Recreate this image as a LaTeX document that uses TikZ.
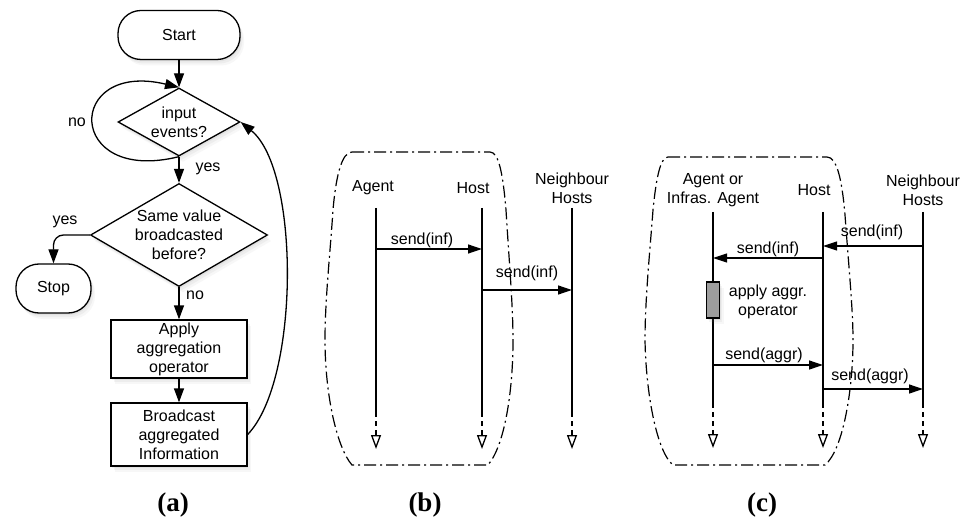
\documentclass[tikz,border=0pt]{standalone}
\usepackage{fontspec}
\setmainfont{Liberation Sans}
\newfontfamily\capfont{Liberation Serif}
\usetikzlibrary{arrows.meta,shapes.geometric,shadows}
\begin{document}
\begin{tikzpicture}[x=1pt,y=-1pt,
  every node/.style={font=\fontsize{16}{19}\selectfont, align=center},
  shdw/.style={drop shadow={shadow xshift=4pt,shadow yshift=-6pt,opacity=0.06},
               drop shadow={shadow xshift=2.5pt,shadow yshift=-4pt,opacity=0.08},
               drop shadow={shadow xshift=1pt,shadow yshift=-2pt,opacity=0.10}},
  box/.style={draw, line width=1.3pt, rectangle, minimum width=136pt, inner sep=0pt, fill=white, shdw},
  term/.style={draw, line width=1.3pt, rounded corners=23pt, inner sep=0pt, fill=white, shdw},
  dec/.style={draw, diamond, line width=1.3pt, inner sep=-15pt, fill=white, shdw},
  arr/.style={line width=1.3pt, -{Triangle[length=14pt,width=10pt]}},
  msg/.style={line width=1.2pt, -{Triangle[length=14pt,width=9pt]}},
  life/.style={line width=1.2pt},
  lifedash/.style={line width=1.2pt, dash pattern=on 5pt off 4pt},
  lifetip/.style={line width=1.3pt, -{Triangle[open,length=14pt,width=10pt]}},
  bound/.style={line width=1.2pt, dash pattern=on 12pt off 4pt on 2pt off 4pt},
  lbl/.style={inner sep=0pt},
  act/.style={draw, line width=1.2pt, fill=black!38, inner sep=0pt, minimum width=13pt, minimum height=36pt, shdw},
  capt/.style={font=\capfont\bfseries\fontsize{27}{30}\selectfont, inner sep=0pt}
]
\useasboundingbox (0,0) rectangle (973,518);
\fill[white] (0,0) rectangle (973,518);

% ---------- (a) flowchart ----------
\node[term, minimum width=122pt, minimum height=49pt] (start) at (179,35) {Start};
\node[dec, minimum width=122pt, minimum height=68pt] (d1) at (179,122) {input\\events?};
\node[dec, minimum width=177pt, minimum height=103pt] (d2) at (179,235) {Same value\\broadcasted\\before?};
\node[term, minimum width=75pt, minimum height=49pt] (stop) at (53.5,288.5) {Stop};
\node[box, minimum height=58pt] (b1) at (179,349) {Apply\\aggregation\\operator};
\node[box, minimum height=63pt] (b2) at (179,434.5) {Broadcast\\aggregated\\Information};

\node[lbl] (no1) at (77,122) {no};
\node[lbl] (yes1) at (208,169) {yes};
\node[lbl] (yes2) at (65,222) {yes};
\node[lbl] (no2) at (195,295) {no};

\draw[arr] (start) -- (d1);
\draw[arr] (d1.south) .. controls (65,185) and (65,60) .. (d1.north);
\draw[arr] (d1.south) -- (d2.north);
\draw[arr, rounded corners=10pt] (d2.west) -| (stop.north);
\draw[arr] (d2.south) -- (b1.north);
\draw[arr] (b1.south) -- (b2.north);
\draw[arr] (b2.east) .. controls (300,380) and (300,170) .. (d1.east);

\node[capt] (capa) at (173,505) {(a)};

% ---------- (b) ----------
\draw[bound] (352,152) -- (490,152) .. controls (499,152) and (503,175) .. (506,210)
  .. controls (509,260) and (513,305) .. (513,340) .. controls (513,390) and (505,445) .. (488,465)
  -- (352,465) .. controls (337,448) and (325,395) .. (325,340)
  .. controls (325,300) and (330,255) .. (333,210) .. controls (336,175) and (342,152) .. (352,152) -- cycle;

\node (bAg) at (373,188) {Agent};
\node (bHo) at (473,188) {Host};
\node (bNe) at (572,188) {Neighbour\\Hosts};

\foreach \n/\x in {bA/376, bH/482, bN/572}{
  \coordinate (\n0) at (\x,208); \coordinate (\n1) at (\x,412);
  \coordinate (\n2) at (\x,434); \coordinate (\n3) at (\x,449);
}
\foreach \n in {bA,bH,bN}{
  \draw[life] (\n0) -- (\n1);
  \draw[lifedash] (\n1) -- (\n2);
  \draw[lifetip] (\n2) -- (\n3);
}

\coordinate (bm1a) at (376,249); \coordinate (bm1b) at (482,249);
\draw[msg] (bm1a) -- (bm1b);
\node[lbl] (bl1) at (422,240) {send(inf)};
\coordinate (bm2a) at (482,290); \coordinate (bm2b) at (572,290);
\draw[msg] (bm2a) -- (bm2b);
\node[lbl] (bl2) at (527,273.5) {send(inf)};

\node[capt] (capb) at (425,505) {(b)};

% ---------- (c) ----------
\draw[bound] (668,157) -- (827,157) .. controls (837,157) and (842,180) .. (845,215)
  .. controls (849,270) and (853,310) .. (853,340) .. controls (853,390) and (843,450) .. (825,465)
  -- (673,465) .. controls (657,452) and (646,395) .. (645,340)
  .. controls (645,300) and (650,250) .. (653,210) .. controls (656,180) and (660,157) .. (668,157) -- cycle;

\node (cAg) at (713,190.5) {Agent or\\Infras. Agent};
\node (cHo) at (814,190) {Host};
\node (cNe) at (923,190) {Neighbour\\Hosts};

\foreach \n/\x in {cA/713, cH/823, cN/923}{
  \coordinate (\n0) at (\x,212); \coordinate (\n1) at (\x,403);
  \coordinate (\n2) at (\x,433); \coordinate (\n3) at (\x,448);
}
\foreach \n in {cA,cH,cN}{
  \draw[life] (\n0) -- (\n1);
  \draw[lifedash] (\n1) -- (\n2);
  \draw[lifetip] (\n2) -- (\n3);
}

\coordinate (cm1a) at (923,246); \coordinate (cm1b) at (823,246);
\draw[msg] (cm1a) -- (cm1b);
\node[lbl] (cl1) at (872,232) {send(inf)};
\coordinate (cm2a) at (823,258); \coordinate (cm2b) at (713,258);
\draw[msg] (cm2a) -- (cm2b);
\node[lbl] (cl2) at (768,249) {send(inf)};

\node[act] (actbox) at (713,300) {};
\node[lbl] (cl3) at (768,302) {apply aggr.\\operator};

\coordinate (cm3a) at (713,365); \coordinate (cm3b) at (823,365);
\draw[msg] (cm3a) -- (cm3b);
\node[lbl] (cl4) at (764,355.5) {send(aggr)};
\coordinate (cm4a) at (823,389); \coordinate (cm4b) at (923,389);
\draw[msg] (cm4a) -- (cm4b);
\node[lbl] (cl5) at (870,376) {send(aggr)};

\node[capt] (capc) at (762,505) {(c)};
\end{tikzpicture}
\end{document}
